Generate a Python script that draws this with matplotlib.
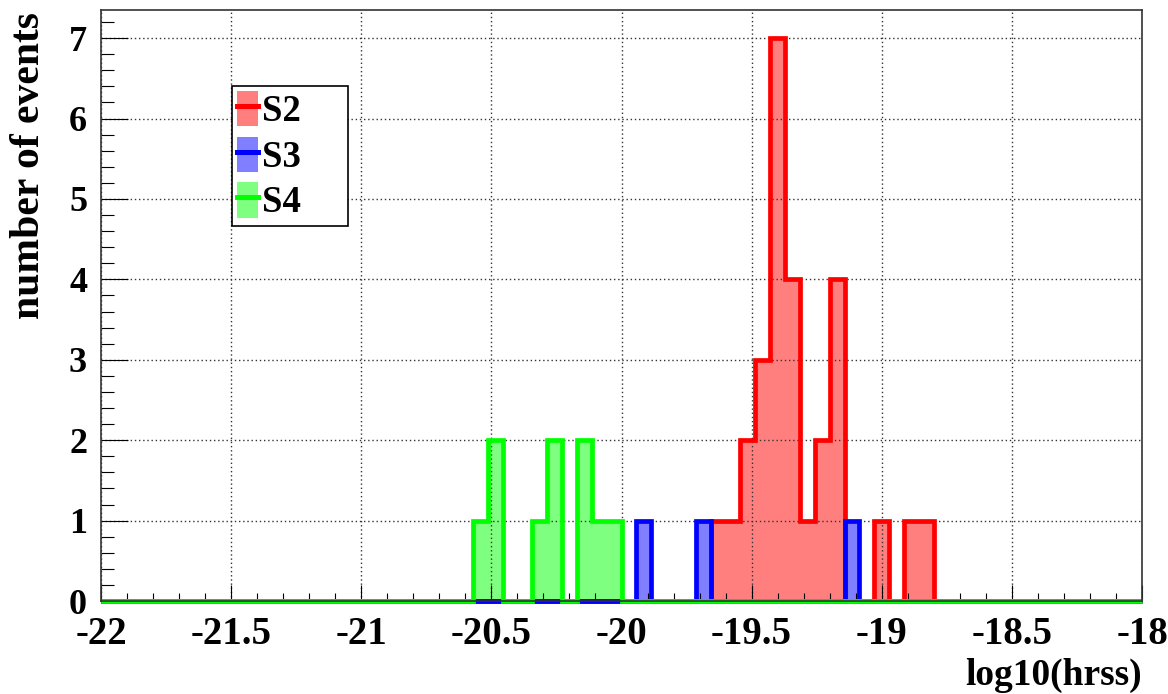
import numpy as np
import matplotlib
matplotlib.use('Agg')
import matplotlib.pyplot as plt
from matplotlib.patches import Patch
from matplotlib.lines import Line2D
from matplotlib.ticker import MultipleLocator

plt.rcParams['font.family'] = ['Liberation Serif', 'DejaVu Serif']
plt.rcParams['font.weight'] = 'bold'
plt.rcParams['axes.unicode_minus'] = False

#-------------------------------data--------------------------------
n_bins = 70
x_lo, x_hi = -22.0, -18.0

s2_bins = [41, 42, 43, 44, 45, 46, 47, 48, 49, 52, 54, 55]
s2_counts = [1, 1, 2, 3, 7, 4, 1, 2, 4, 1, 1, 1]

s3_bins = [36, 40, 50]
s3_counts = [1, 1, 1]

s4_bins = [25, 26, 29, 30, 32, 33, 34]
s4_counts = [1, 2, 1, 2, 2, 1, 1]

x_ticks = [-22, -21.5, -21, -20.5, -20, -19.5, -19, -18.5, -18]
x_labels = ['-22', '-21.5', '-21', '-20.5', '-20', '-19.5', '-19', '-18.5', '-18']
y_ticks = [0, 1, 2, 3, 4, 5, 6, 7]

series = [('S2', s2_bins, s2_counts, 'red'),
          ('S3', s3_bins, s3_counts, 'blue'),
          ('S4', s4_bins, s4_counts, '#00ff00')]

edges = np.linspace(x_lo, x_hi, n_bins + 1)

#-------------------------------plot--------------------------------
fig = plt.figure(figsize=(11.68, 6.94), dpi=100)
ax = fig.add_axes([101/1168, 1 - 601/694, 1041/1168, 591/694])

handles = []
for i, (name, bins, counts, col) in enumerate(series):
    h = np.zeros(n_bins)
    h[bins] = counts
    ax.stairs(h, edges, fill=True, facecolor=col, alpha=0.5,
              linewidth=0, zorder=1)
    ax.stairs(h, edges, color=col, linewidth=3.4, zorder=2 + 0.1*i,
              clip_on=False)
    handles.append((Patch(facecolor=col, alpha=0.5, edgecolor='none'),
                    Line2D([], [], color=col, linewidth=3.6)))

ax.set_xlim(x_lo, x_hi)
ax.set_ylim(0, 7.35)
ax.set_xticks(x_ticks)
ax.set_xticklabels(x_labels)
ax.set_yticks(y_ticks)
ax.xaxis.set_minor_locator(MultipleLocator(0.1))
ax.yaxis.set_minor_locator(MultipleLocator(0.2))

ax.set_axisbelow('line')
ax.grid(True, which='major', color='#333333', linewidth=1.0,
        linestyle=(0, (1, 2)))

ax.tick_params(axis='x', which='major', direction='in', length=11.5,
               width=0.8, labelsize=28, pad=11, top=False)
ax.tick_params(axis='x', which='minor', direction='in', length=5.8,
               width=0.8, top=False)
ax.tick_params(axis='y', which='major', direction='in', length=19.5,
               width=0.8, labelsize=26, pad=10, right=False)
ax.tick_params(axis='y', which='minor', direction='in', length=9.5,
               width=0.8, right=False)

for sp in ax.spines.values():
    sp.set_linewidth(1.2)
    sp.set_color('#333333')

fig.text(29/1168, 1 - 12/694, 'number of events', rotation=90,
         ha='center', va='top', fontsize=30)
fig.text(1142/1168, 1 - 685/694, 'log10(hrss)', ha='right',
         va='baseline', fontsize=27)

leg = ax.legend(handles, [s[0] for s in series],
                loc='upper left',
                bbox_to_anchor=(231.7/1168, 1 - 225/694, 116.6/1168, 139/694),
                bbox_transform=fig.transFigure, mode='expand',
                fontsize=26.5, handlelength=0.57, handleheight=1.1,
                handletextpad=0.12, labelspacing=0.2, borderpad=0.14,
                borderaxespad=0, fancybox=False, framealpha=1,
                edgecolor='black')
leg.get_frame().set_linewidth(1.2)
leg.set_zorder(5)

fig.savefig('out.png', dpi=100)
